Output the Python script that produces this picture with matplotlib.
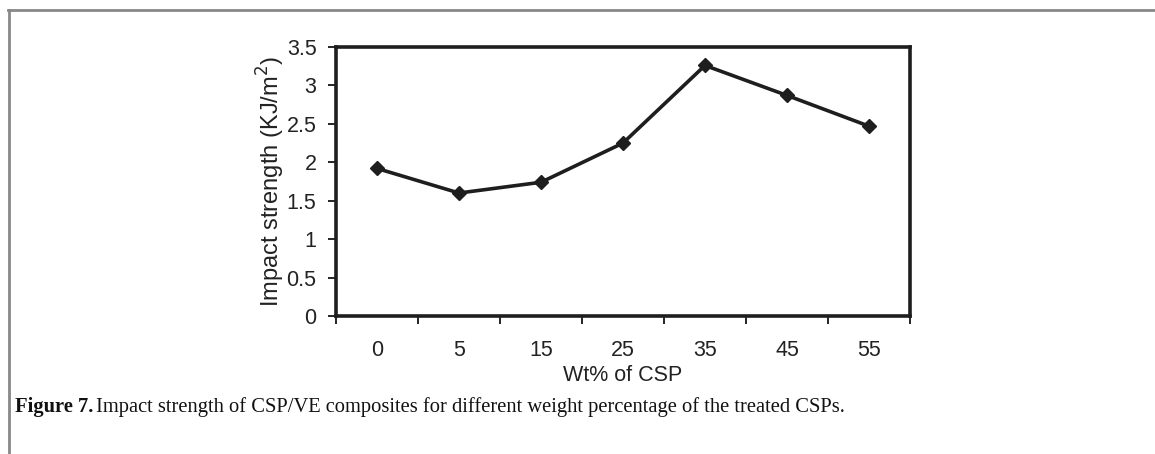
import matplotlib
matplotlib.use("Agg")
from matplotlib import pyplot as plt
from matplotlib.lines import Line2D

# data
wt_labels = ["0", "5", "15", "25", "35", "45", "55"]
impact = [1.92, 1.60, 1.74, 2.25, 3.26, 2.87, 2.47]

W, H = 1155, 454
fig = plt.figure(figsize=(W / 100, H / 100), dpi=100)

# axes placed in pixel coordinates of the reference
x0, x1, y0, y1 = 336, 910, 47, 316
ax = fig.add_axes([x0 / W, 1 - y1 / H, (x1 - x0) / W, (y1 - y0) / H])

pos = range(len(wt_labels))
ax.plot(pos, impact, color="#1e1e1e", lw=2.6, marker="D", ms=7.5,
        mfc="#1e1e1e", mec="#1e1e1e")

ax.set_xlim(-0.5, len(wt_labels) - 0.5)
ax.set_ylim(0, 3.5)
ax.set_yticks([0, 0.5, 1, 1.5, 2, 2.5, 3, 3.5])
ax.set_yticklabels(["0", "0.5", "1", "1.5", "2", "2.5", "3", "3.5"])
ax.set_xticks([p - 0.5 for p in range(len(wt_labels) + 1)])
ax.set_xticklabels([])
ax.set_xticks(list(pos), minor=True)
ax.set_xticklabels(wt_labels, minor=True)

sans = "Liberation Sans"
for lab in ax.get_yticklabels() + ax.get_xticklabels(minor=True):
    lab.set_fontfamily(sans)
    lab.set_fontsize(15.5)
    lab.set_color("#222222")

ax.tick_params(axis="y", direction="out", length=6, width=1.2, pad=8)
ax.tick_params(axis="x", which="major", direction="out", length=6, width=1.2)
ax.tick_params(axis="x", which="minor", length=0, pad=17)

for s in ax.spines.values():
    s.set_linewidth(2.6)
    s.set_color("#1e1e1e")

ax.set_ylabel("Impact strength (KJ/m$^2$)", fontfamily=sans, fontsize=17,
              color="#222222", labelpad=0)
ax.set_xlabel("Wt% of CSP", fontfamily=sans, fontsize=15.5, color="#222222",
              labelpad=3)

# page frame lines
fig.add_artist(Line2D([8 / W, 1], [1 - 10 / H, 1 - 10 / H], color="#888888",
                      lw=2, transform=fig.transFigure))
fig.add_artist(Line2D([9 / W, 9 / W], [1 - 10 / H, 0], color="#888888",
                      lw=2, transform=fig.transFigure))

# caption
serif = "Liberation Serif"
cap_y = 1 - 407 / H
t = fig.text(15 / W, cap_y, "Figure 7.", fontfamily=serif, fontweight="bold",
             fontsize=14.8, va="center", color="#111111")
fig.canvas.draw()
bb = t.get_window_extent()
fig.text((bb.x1 + 3) / W, cap_y,
         "Impact strength of CSP/VE composites for different weight percentage of the treated CSPs.",
         fontfamily=serif, fontsize=14.8, va="center", color="#111111")

fig.savefig("out.png", dpi=100)
